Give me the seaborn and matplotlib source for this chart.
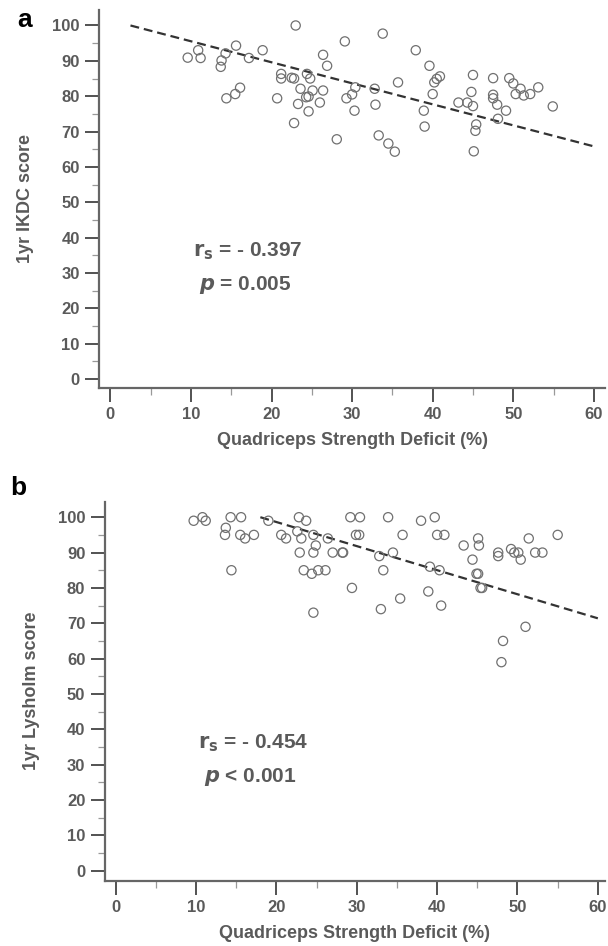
import numpy as np
import pandas as pd
import matplotlib
matplotlib.use("Agg")
import matplotlib.pyplot as plt
from matplotlib.ticker import MultipleLocator
import seaborn as sns

# panel a: quadriceps deficit vs 1yr IKDC
ikdc_x = [9.6, 10.9, 11.2, 13.7, 13.8, 14.3, 15.6, 17.2, 18.9, 23.0, 14.4, 15.5, 16.1,
          20.7, 21.2, 21.2, 22.5, 22.8, 22.8, 23.3, 23.6, 24.4, 24.8, 24.3, 24.6, 25.1,
          24.6, 26.4, 26.9, 26.4, 26.0, 29.1, 28.1, 29.3, 30.0, 30.4, 30.3, 33.8, 37.9,
          39.6, 35.7, 32.8, 32.9, 33.3, 34.5, 35.3, 38.9, 39.0, 40.0, 40.2, 40.5, 40.9,
          43.2, 44.3, 45.0, 44.8, 45.0, 45.4, 45.3, 45.1, 47.5, 47.5, 47.5, 48.0, 49.1,
          48.1, 49.5, 50.0, 50.9, 50.3, 51.3, 52.1, 53.1, 54.9]
ikdc_y = [90.9, 93.0, 90.8, 88.3, 90.1, 92.1, 94.3, 90.8, 93.0, 100.0, 79.4, 80.6, 82.4,
          79.4, 86.3, 85.0, 85.2, 85.0, 72.4, 77.8, 82.1, 86.3, 85.0, 79.7, 79.9, 81.6,
          75.7, 91.7, 88.6, 81.6, 78.2, 95.5, 67.8, 79.4, 80.5, 82.5, 75.9, 97.7, 93.0,
          88.6, 83.9, 82.1, 77.6, 68.9, 66.6, 64.3, 75.9, 71.4, 80.6, 83.9, 84.9, 85.6,
          78.2, 78.2, 77.2, 81.2, 86.0, 72.0, 70.2, 64.4, 85.1, 80.4, 79.4, 77.6, 75.9,
          73.6, 85.1, 83.6, 82.1, 80.6, 80.2, 80.6, 82.5, 77.1]
ikdc_fit_x = [2.5, 60.0]
ikdc_fit_y = [100.0, 65.8]

# panel b: quadriceps deficit vs 1yr Lysholm
lys_x = [9.7, 10.8, 11.2, 14.3, 15.6, 13.7, 13.6, 15.5, 16.1, 17.2, 14.4, 19.0, 20.6,
         21.2, 22.8, 23.7, 22.6, 23.1, 24.6, 24.9, 24.6, 22.9, 26.4, 27.0, 28.2, 23.4,
         24.4, 25.2, 26.1, 29.4, 29.2, 30.4, 29.9, 30.3, 24.6, 33.9, 38.0, 39.7, 35.7,
         40.0, 40.9, 28.3, 32.8, 34.5, 33.3, 38.9, 35.4, 33.0, 40.5, 39.1, 40.3, 43.3,
         45.1, 45.2, 44.4, 44.9, 45.1, 45.4, 45.6, 47.6, 47.6, 49.2, 49.6, 50.1, 50.4,
         51.4, 52.2, 53.1, 55.0, 51.0, 48.2, 48.0]
lys_y = [99, 100, 99, 100, 100, 97, 95, 95, 94, 95, 85, 99, 95,
         94, 100, 99, 96, 94, 95, 92, 90, 90, 94, 90, 90, 85,
         84, 85, 85, 80, 100, 100, 95, 95, 73, 100, 99, 100, 95,
         95, 95, 90, 89, 90, 85, 79, 77, 74, 75, 86, 85, 92,
         94, 92, 88, 84, 84, 80, 80, 90, 89, 91, 90, 90, 88,
         94, 90, 90, 95, 69, 65, 59]
lys_fit_x = [18.0, 60.0]
lys_fit_y = [100.0, 71.4]

sns.set_style("white")
plt.rcParams['font.family'] = ['Liberation Sans', 'DejaVu Sans']
plt.rcParams['font.weight'] = 'bold'

grey = '#5a5a5a'
W, H = 608, 946
fig = plt.figure(figsize=(6.08, 9.46), dpi=100)
ax1 = fig.add_axes([0.1633, 0.5899, 0.832, 0.3996])
ax2 = fig.add_axes([0.1722, 0.0690, 0.823, 0.4007])

panels = [
    (ax1, ikdc_x, ikdc_y, ikdc_fit_x, ikdc_fit_y, '1yr IKDC score', (-1.37, 61.4), (-2.55, 104.4),
     'a', (17, 20), '$\\mathbf{r_s}$ = - 0.397', '$\\boldsymbol{p}$ = 0.005'),
    (ax2, lys_x, lys_y, lys_fit_x, lys_fit_y, '1yr Lysholm score', (-1.37, 60.9), (-2.83, 104.4),
     'b', (10, 488), '$\\mathbf{r_s}$ = - 0.454', '$\\boldsymbol{p}$ < 0.001'),
]

for ax, xs, ys, fx, fy, ylab, xl, yl, letter, lpos, rtxt, ptxt in panels:
    df = pd.DataFrame({'x': xs, 'y': ys})
    sns.scatterplot(data=df, x='x', y='y', ax=ax, s=44, facecolor='none',
                    edgecolor='#707070', linewidth=0.9, zorder=3)
    fit = pd.DataFrame({'x': fx, 'y': fy})
    sns.lineplot(data=fit, x='x', y='y', ax=ax, color='#333333', linewidth=1.6,
                 linestyle=(0, (4, 2.2)), zorder=2)
    ax.set_xlim(*xl)
    ax.set_ylim(*yl)
    ax.xaxis.set_major_locator(MultipleLocator(10))
    ax.xaxis.set_minor_locator(MultipleLocator(5))
    ax.yaxis.set_major_locator(MultipleLocator(10))
    ax.yaxis.set_minor_locator(MultipleLocator(5))
    ax.tick_params(which='major', direction='out', length=10, width=1.3, color='#444444',
                   labelsize=12, labelcolor=grey, bottom=True, left=True, pad=4)
    ax.tick_params(which='minor', direction='out', length=5, width=0.9, color='#999999',
                   bottom=True, left=True)
    for lbl in ax.get_xticklabels() + ax.get_yticklabels():
        lbl.set_fontweight('bold')
    for side in ['top', 'right']:
        ax.spines[side].set_visible(False)
    for side in ['left', 'bottom']:
        ax.spines[side].set_color('#666666')
        ax.spines[side].set_linewidth(1.6)
    ax.set_xlabel('Quadriceps Strength Deficit (%)', fontsize=13, fontweight='bold',
                  color=grey, labelpad=7)
    ax.set_ylabel(ylab, fontsize=13, fontweight='bold', color=grey, labelpad=13)
    fig.text(lpos[0] / W, 1 - lpos[1] / H, letter, fontsize=19, fontweight='bold',
             color='black', va='center', ha='left')
    ax.text(10.2, 36.0, rtxt, fontsize=15, fontweight='bold', color=grey, va='center')
    ax.text(11.0, 26.5, ptxt, fontsize=15, fontweight='bold', color=grey, va='center')

fig.savefig('out.png', dpi=100)
